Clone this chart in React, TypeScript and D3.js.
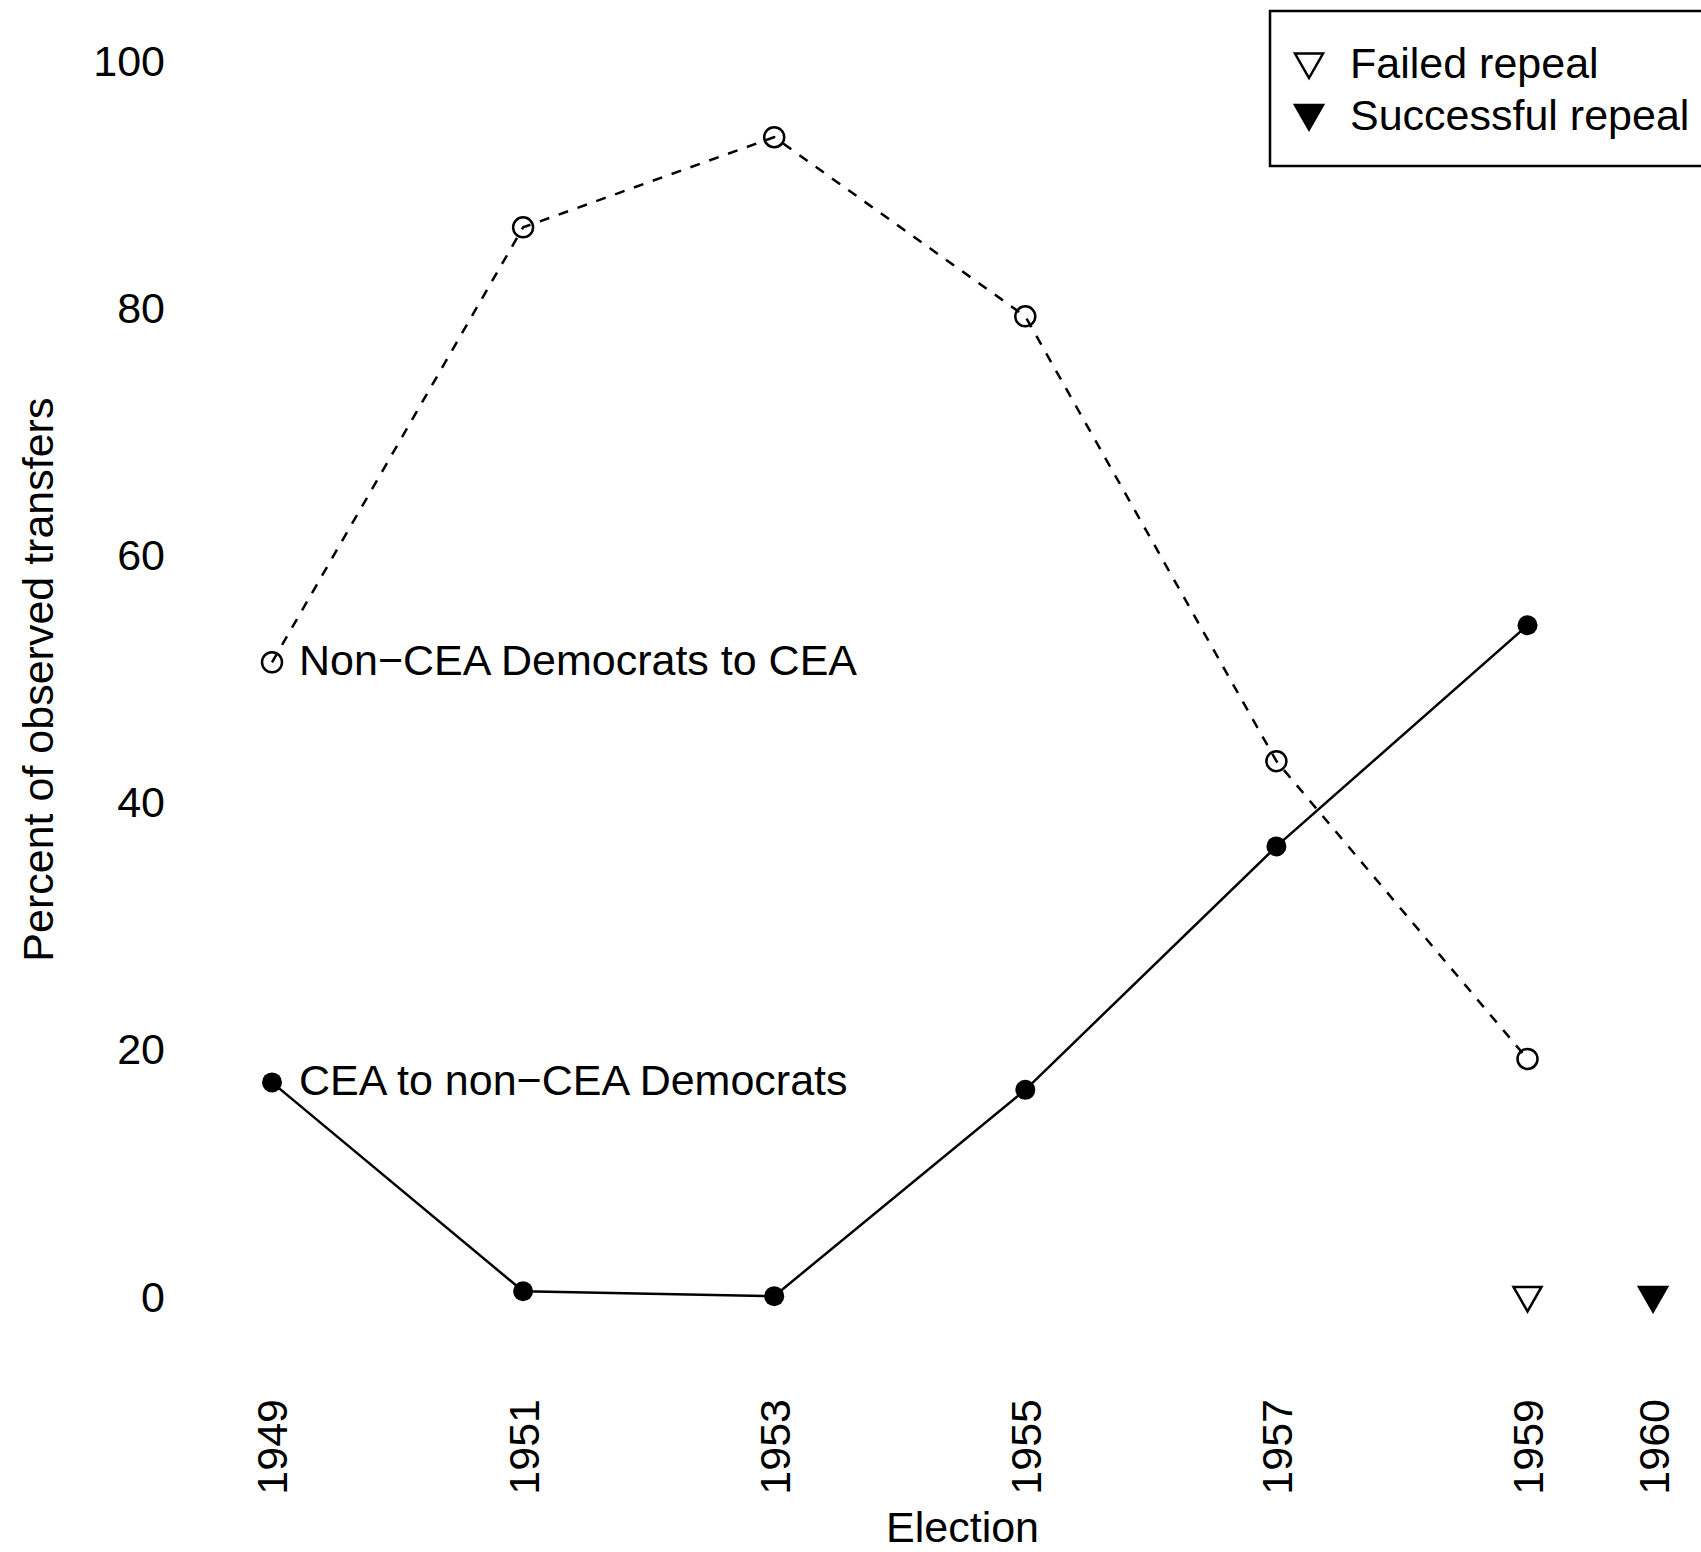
import React from "react";
import * as d3 from "d3";

const years = [1949, 1951, 1953, 1955, 1957, 1959];
const nonCeaToCea = [51.4, 86.6, 93.9, 79.4, 43.4, 19.3];
const ceaToNonCea = [17.4, 0.5, 0.1, 16.8, 36.5, 54.4];
const repealYears = [1959, 1960];
const repealSuccess = [false, true];
const xTickYears = [1949, 1951, 1953, 1955, 1957, 1959, 1960];
const yTicks = [0, 20, 40, 60, 80, 100];
const legendLabels = ["Failed repeal", "Successful repeal"];
const lineLabels = ["Non\u2212CEA Democrats to CEA", "CEA to non\u2212CEA Democrats"];

const W = 1701;
const H = 1552;
const FONT = "'Liberation Sans', Arial, Helvetica, sans-serif";
const FS = 43;

export default function App() {
  const x = d3.scaleLinear().domain([1949, 1959]).range([272, 1527.5]);
  const y = d3.scaleLinear().domain([0, 100]).range([1297.4, 61.8]);

  const line = d3
    .line<number>()
    .x((_, i) => x(years[i]))
    .y((d) => y(d));

  const tri = (cx: number, cy: number) =>
    `M${cx - 14},${cy - 10.5} L${cx + 14},${cy - 10.5} L${cx},${cy + 14} Z`;

  return (
    <svg
      width={W}
      height={H}
      style={{ display: "block", position: "absolute", left: 0, top: 0, background: "#fff" }}
      fontFamily={FONT}
    >
      <rect x={0} y={0} width={W} height={H} fill="#fff" />
      {yTicks.map((t) => (
        <text key={t} x={165} y={y(t)} dy="0.33em" textAnchor="end" fontSize={FS} fill="#000">
          {t}
        </text>
      ))}
      {xTickYears.map((t) => (
        <text
          key={t}
          transform={`translate(${x(t)},1399) rotate(-90)`}
          dy="0.36em"
          textAnchor="end"
          fontSize={FS}
          fill="#000"
        >
          {t}
        </text>
      ))}
      <text
        transform={`translate(53,${(y(0) + y(100)) / 2}) rotate(-90)`}
        textAnchor="middle"
        fontSize={FS}
        fill="#000"
      >
        Percent of observed transfers
      </text>
      <text x={(x(1949) + x(1960)) / 2} y={1542} textAnchor="middle" fontSize={FS} fill="#000">
        Election
      </text>

      <path d={line(nonCeaToCea) || ""} fill="none" stroke="#000" strokeWidth={2.5} strokeDasharray="10,10" />
      {nonCeaToCea.map((v, i) => (
        <circle key={"o" + i} cx={x(years[i])} cy={y(v)} r={10} fill="none" stroke="#000" strokeWidth={2.5} />
      ))}

      <path d={line(ceaToNonCea) || ""} fill="none" stroke="#000" strokeWidth={2.5} />
      {ceaToNonCea.map((v, i) => (
        <circle key={"f" + i} cx={x(years[i])} cy={y(v)} r={10} fill="#000" />
      ))}

      <text x={299} y={y(nonCeaToCea[0])} dy="0.3em" fontSize={FS} fill="#000">
        {lineLabels[0]}
      </text>
      <text x={299} y={y(ceaToNonCea[0])} dy="0.3em" fontSize={FS} fill="#000">
        {lineLabels[1]}
      </text>

      {repealYears.map((yr, i) => (
        <path
          key={"t" + yr}
          d={tri(x(yr), y(0))}
          fill={repealSuccess[i] ? "#000" : "#fff"}
          stroke="#000"
          strokeWidth={2.5}
        />
      ))}

      <rect x={1270} y={11} width={500} height={155} fill="#fff" stroke="#000" strokeWidth={2.5} />
      {legendLabels.map((lab, i) => (
        <g key={lab}>
          <path
            d={tri(1309, 64 + i * 51.5)}
            fill={repealSuccess[i] ? "#000" : "#fff"}
            stroke="#000"
            strokeWidth={2.5}
          />
          <text x={1350} y={64 + i * 51.5} dy="0.33em" fontSize={FS} fill="#000">
            {lab}
          </text>
        </g>
      ))}
    </svg>
  );
}
